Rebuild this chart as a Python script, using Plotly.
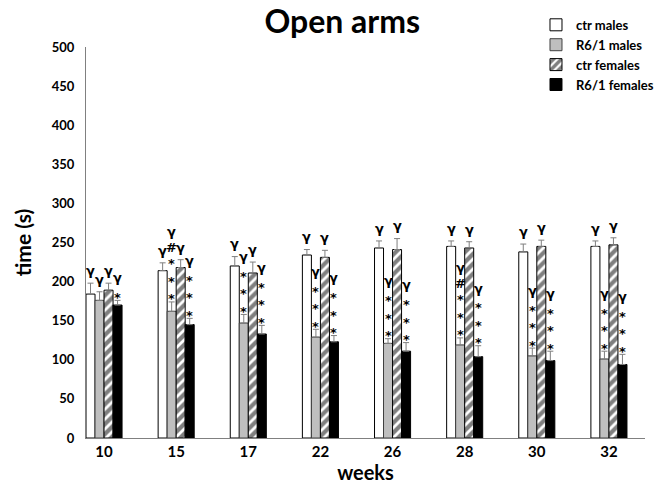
import plotly.graph_objects as go

# Weeks of age (x categories)
weeks = ["10", "15", "17", "22", "26", "28", "30", "32"]

# Mean time spent in the open arms (s) and SEM, per group
ctr_males = [184, 214, 220, 234, 243, 245, 238, 245]
ctr_males_sem = [14, 10, 12, 7, 9, 7, 10, 7]

r61_males = [176, 162, 147, 129, 121, 119, 105, 101]
r61_males_sem = [11, 12, 11, 10, 6, 9, 10, 10]

ctr_females = [189, 218, 211, 231, 241, 243, 245, 247]
ctr_females_sem = [9, 10, 14, 9, 14, 8, 8, 9]

r61_females = [170, 145, 133, 123, 111, 104, 99, 94]
r61_females_sem = [6, 8, 11, 8, 11, 14, 12, 13]

# Significance marks stacked above each bar (read top to bottom)
ctr_males_sig = ["γ"] * 8
r61_males_sig = ["γ", "γ#***", "γ***", "γ***", "γ***", "γ#***", "γ***", "γ***"]
ctr_females_sig = ["γ"] * 8
r61_females_sig = ["γ*", "γ***", "γ***", "γ***", "γ***", "γ***", "γ***", "γ***"]

FONT = "Lato"
MARK_FONT = "DejaVu Sans"
x_pos = list(range(len(weeks)))
bar_w = 0.125
offsets = [-1.5 * bar_w, -0.5 * bar_w, 0.5 * bar_w, 1.5 * bar_w]

# vertical gap (px) added before each symbol when stacking upward
STEP = {"*": 17.5, "#": 13, "γ": 14}
FIRST = {"*": 6, "#": 8, "γ": 10}
# shift from the text box middle to the visual centre of the glyph
GLYPH_MID = {"*": -3, "#": 0, "γ": 2.7}


def stack_shifts(symbols):
    """Pixel offsets (box middle above the error-bar tip) for a symbol column."""
    out = []
    h = None
    for c in reversed(symbols):
        h = FIRST[c] if h is None else h + STEP[c]
        out.append((c, h + GLYPH_MID[c]))
    return out


series = [
    ("ctr males", ctr_males, ctr_males_sem, ctr_males_sig,
     dict(color="white", line=dict(color="black", width=1))),
    ("R6/1 males", r61_males, r61_males_sem, r61_males_sig,
     dict(color="#bfbfbf", line=dict(color="#404040", width=1))),
    ("ctr females", ctr_females, ctr_females_sem, ctr_females_sig,
     dict(color="white", line=dict(color="black", width=1),
          pattern=dict(shape="/", fgcolor="black", bgcolor="white",
                       size=7, solidity=0.6))),
    ("R6/1 females", r61_females, r61_females_sem, r61_females_sig,
     dict(color="black", line=dict(color="black", width=1))),
]

fig = go.Figure()
annotations = []
for (name, vals, sem, sig, marker), off in zip(series, offsets):
    fig.add_trace(go.Bar(
        name=name,
        x=[x + off for x in x_pos],
        y=vals,
        width=bar_w,
        marker=marker,
        error_y=dict(type="data", array=sem, arrayminus=[0] * len(sem),
                     symmetric=False, color="#7f7f7f", thickness=1, width=3),
    ))
    for x, v, e, s in zip(x_pos, vals, sem, sig):
        for c, dy in stack_shifts(s):
            annotations.append(dict(
                x=x + off, y=v + e, xref="x", yref="y",
                text=c, showarrow=False,
                yanchor="middle", xanchor="center", yshift=dy,
                font=dict(family=MARK_FONT, size=13, color="black",
                          weight="bold"),
            ))

fig.update_layout(
    width=662, height=491,
    margin=dict(l=86, r=3, t=47, b=53),
    paper_bgcolor="white", plot_bgcolor="white",
    barmode="overlay",
    showlegend=True,
    legend=dict(x=0.805, y=1.095, xref="paper", yref="paper",
                xanchor="left", yanchor="top",
                font=dict(family=FONT, size=13, color="black", weight="bold"),
                itemwidth=30, tracegroupgap=0, bgcolor="rgba(0,0,0,0)"),
    title=dict(text="Open arms", x=0.517, xref="container", xanchor="center",
               y=0.955, yref="container", yanchor="middle",
               font=dict(family=FONT, size=32, color="black", weight="bold")),
    annotations=annotations,
)

fig.update_xaxes(
    range=[-0.25, 7.5], tickvals=x_pos, ticktext=weeks,
    showline=True, linecolor="#808080", linewidth=1,
    showgrid=False, zeroline=False, ticks="",
    tickfont=dict(family=FONT, size=15, color="black", weight="bold"),
    title=dict(text="weeks", standoff=4,
               font=dict(family=FONT, size=20, color="black", weight="bold")),
)
fig.update_yaxes(
    range=[0, 500], dtick=50,
    showline=True, linecolor="#808080", linewidth=1,
    showgrid=False, zeroline=False, ticks="",
    ticklabelstandoff=8,
    tickfont=dict(family=FONT, size=13, color="black", weight="bold"),
    title=dict(text="time (s)", standoff=14,
               font=dict(family=FONT, size=21, color="black", weight="bold")),
)

fig.write_html("out.html")
